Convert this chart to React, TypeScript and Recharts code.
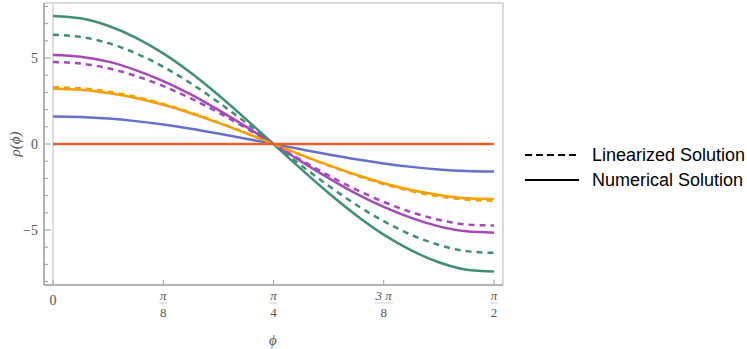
import React from 'react';
import { LineChart, Line, XAxis, YAxis, ReferenceLine } from 'recharts';

// phi sample points, 0 .. pi/2 in steps of pi/32
const phi = [0, 0.0982, 0.1963, 0.2945, 0.3927, 0.4909, 0.589, 0.6872, 0.7854, 0.8836, 0.9817, 1.0799, 1.1781, 1.2763, 1.3744, 1.4726, 1.5708];

// numerical (solid) solutions
const greenSolid = [7.45, 7.31, 6.88, 6.19, 5.27, 4.14, 2.85, 1.45, 0, -1.45, -2.85, -4.14, -5.27, -6.19, -6.88, -7.31, -7.42];
const purpleSolid = [5.18, 5.08, 4.79, 4.3, 3.66, 2.88, 1.98, 1.01, 0, -1.01, -1.98, -2.88, -3.66, -4.3, -4.79, -5.08, -5.16];
const orangeSolid = [3.22, 3.16, 2.97, 2.68, 2.28, 1.79, 1.23, 0.63, 0, -0.63, -1.23, -1.79, -2.28, -2.68, -2.97, -3.16, -3.2];
const blueSolid = [1.6, 1.57, 1.48, 1.33, 1.13, 0.89, 0.61, 0.31, 0, -0.31, -0.61, -0.89, -1.13, -1.33, -1.48, -1.57, -1.6];
const redSolid = [0, 0, 0, 0, 0, 0, 0, 0, 0, 0, 0, 0, 0, 0, 0, 0, 0];

// linearized (dashed) solutions
const greenDashed = [6.35, 6.23, 5.87, 5.28, 4.49, 3.53, 2.43, 1.24, 0, -1.24, -2.43, -3.53, -4.49, -5.28, -5.87, -6.23, -6.33];
const purpleDashed = [4.77, 4.68, 4.41, 3.96, 3.37, 2.65, 1.83, 0.93, 0, -0.93, -1.83, -2.65, -3.37, -3.96, -4.41, -4.68, -4.74];
const orangeDashed = [3.3, 3.24, 3.05, 2.74, 2.33, 1.83, 1.26, 0.64, 0, -0.64, -1.26, -1.83, -2.33, -2.74, -3.05, -3.24, -3.3];

const xTicks = [0, 0.3927, 0.7854, 1.1781, 1.5708];
const xTickLabels: [string, string][] = [['0', ''], ['π', '8'], ['π', '4'], ['3 π', '8'], ['π', '2']];
const yTicks = [-8, -7, -6, -5, -4, -3, -2, -1, 0, 1, 2, 3, 4, 5, 6, 7, 8];
const yLabeled = [-5, 0, 5];

const data = phi.map((p, i) => ({
  phi: p,
  gs: greenSolid[i],
  ps: purpleSolid[i],
  os: orangeSolid[i],
  bs: blueSolid[i],
  rs: redSolid[i],
  gd: greenDashed[i],
  pd: purpleDashed[i],
  od: orangeDashed[i],
}));

const GREEN = '#3f8f74';
const PURPLE = '#a548b8';
const ORANGE = '#f4a000';
const BLUE = '#6670cc';
const RED = '#e6622a';
const AXIS = '#9a9a9a';
const serif = '"Liberation Serif", "DejaVu Serif", serif';
const sans = '"Liberation Sans", Arial, sans-serif';

const XTick = (props: any) => {
  const { x, y, index } = props;
  const [num, den] = xTickLabels[index];
  return (
    <g>
      <line x1={x} y1={y} x2={x} y2={y - 5} stroke={AXIS} />
      {den === '' ? (
        <text x={x} y={y + 20} textAnchor="middle" fontFamily={serif} fontSize={14} fill="#555">{num}</text>
      ) : (
        <g>
          <text x={x} y={y + 15} textAnchor="middle" fontFamily={serif} fontSize={13} fontStyle="italic" fill="#555">{num}</text>
          <line x1={x - (num.length > 1 ? 9 : 4)} y1={y + 18} x2={x + (num.length > 1 ? 9 : 4)} y2={y + 18} stroke="#aaa" strokeWidth={0.6} />
          <text x={x} y={y + 32} textAnchor="middle" fontFamily={serif} fontSize={13} fill="#555">{den}</text>
        </g>
      )}
    </g>
  );
};

const YTick = (props: any) => {
  const { x, y, payload } = props;
  const major = yLabeled.includes(payload.value);
  return (
    <g>
      <line x1={x} y1={y} x2={x + (major ? 7 : 4)} y2={y} stroke={AXIS} />
      {major && (
        <text x={x - 6} y={y + 5} textAnchor="end" fontFamily={serif} fontSize={14} fill="#555">
          {payload.value < 0 ? '−' + Math.abs(payload.value) : payload.value}
        </text>
      )}
    </g>
  );
};

const App = () => (
  <div style={{ position: 'absolute', left: 0, top: 0, width: 747, height: 349, background: '#fff' }}>
    <LineChart width={747} height={349} data={data} margin={{ top: 3, right: 244, bottom: 0, left: 0 }}>
      <XAxis
        dataKey="phi"
        type="number"
        domain={[-0.032, 1.603]}
        ticks={xTicks}
        tick={<XTick />}
        tickLine={false}
        tickSize={0}
        tickMargin={0}
        height={64}
        stroke={AXIS}
        strokeWidth={1.5}
        interval={0}
        allowDataOverflow
      />
      <YAxis
        type="number"
        domain={[-8.2, 8.2]}
        ticks={yTicks}
        tick={<YTick />}
        tickLine={false}
        tickSize={0}
        tickMargin={0}
        width={44}
        stroke={AXIS}
        strokeWidth={1.5}
        interval={0}
        allowDataOverflow
      />
      <ReferenceLine y={8.2} stroke="#b5b5b5" />
      <ReferenceLine x={1.603} stroke="#b5b5b5" />
      <ReferenceLine x={0} stroke="#d4d4d4" strokeWidth={1.5} />
      <Line dataKey="gs" stroke={GREEN} strokeWidth={2.5} dot={false} type="monotone" isAnimationActive={false} />
      <Line dataKey="ps" stroke={PURPLE} strokeWidth={2.5} dot={false} type="monotone" isAnimationActive={false} />
      <Line dataKey="os" stroke={ORANGE} strokeWidth={2.5} dot={false} type="monotone" isAnimationActive={false} />
      <Line dataKey="bs" stroke={BLUE} strokeWidth={2.5} dot={false} type="monotone" isAnimationActive={false} />
      <Line dataKey="gd" stroke={GREEN} strokeWidth={2.5} strokeDasharray="6 5" dot={false} type="monotone" isAnimationActive={false} />
      <Line dataKey="pd" stroke={PURPLE} strokeWidth={2.5} strokeDasharray="6 5" dot={false} type="monotone" isAnimationActive={false} />
      <Line dataKey="od" stroke={ORANGE} strokeWidth={2.5} strokeDasharray="6 5" dot={false} type="monotone" isAnimationActive={false} />
      <Line dataKey="rs" stroke={RED} strokeWidth={2.5} dot={false} type="monotone" isAnimationActive={false} />
      <text x={273} y={345} textAnchor="middle" fontFamily={serif} fontSize={15} fontStyle="italic" fill="#555">ϕ</text>
      <text x={20} y={144} textAnchor="middle" fontFamily={serif} fontSize={15} fontStyle="italic" fill="#555" transform="rotate(-90 20 144)">ρ(ϕ)</text>
      <g>
        <line x1={525} y1={155} x2={579} y2={155} stroke="#000" strokeWidth={2} strokeDasharray="7 4" />
        <text x={592} y={161} fontFamily={sans} fontSize={18} fill="#000">Linearized Solution</text>
        <line x1={525} y1={180} x2={579} y2={180} stroke="#000" strokeWidth={2} />
        <text x={592} y={186} fontFamily={sans} fontSize={18} fill="#000">Numerical Solution</text>
      </g>
    </LineChart>
  </div>
);

export default App;
